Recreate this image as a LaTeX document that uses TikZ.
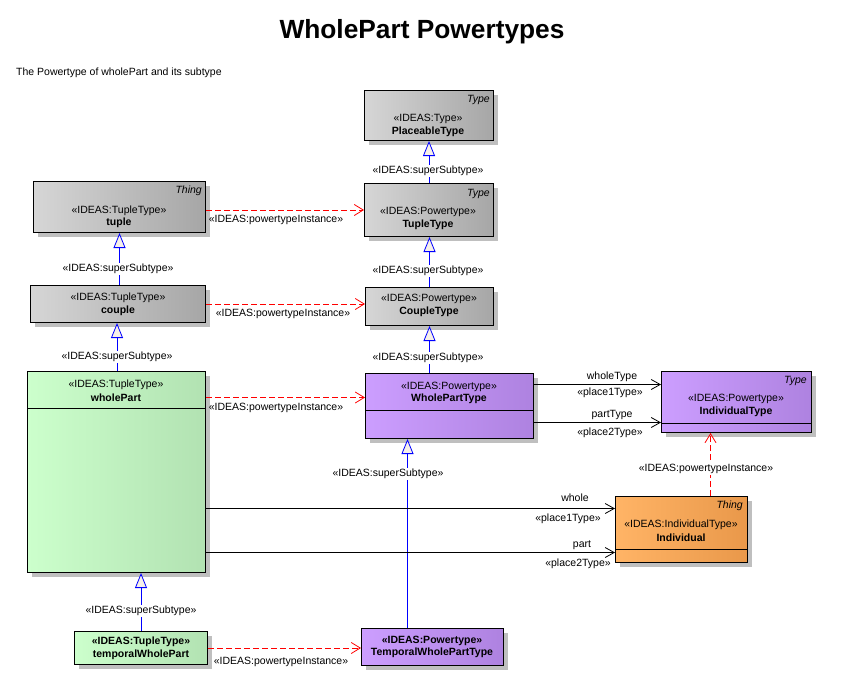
\documentclass[tikz,border=0pt]{standalone}
\usepackage{fontspec}
\setmainfont{Liberation Sans}
\usetikzlibrary{arrows.meta,shadows,calc}
\definecolor{grayL}{HTML}{D6D6D6}
\definecolor{grayR}{HTML}{A6A6A6}
\definecolor{greenL}{HTML}{CCFFCC}
\definecolor{greenR}{HTML}{B2E2B2}
\definecolor{purpL}{HTML}{CC9EFF}
\definecolor{purpR}{HTML}{AE82E0}
\definecolor{orangeL}{HTML}{FFB466}
\definecolor{orangeR}{HTML}{E9984A}
\definecolor{triFill}{HTML}{F6F0E8}
\begin{document}
\begin{tikzpicture}[x=1pt,y=-1pt,
  font=\fontsize{10.5}{12}\selectfont,
  umlbox/.style={draw=black, line width=1pt, rectangle, anchor=north west, inner sep=0pt,
    drop shadow={shadow xshift=4pt,shadow yshift=-4pt,fill=black!25,opacity=1}},
  graybox/.style={umlbox, left color=grayL, right color=grayR},
  greenbox/.style={umlbox, left color=greenL, right color=greenR},
  purpbox/.style={umlbox, left color=purpL, right color=purpR},
  orangebox/.style={umlbox, left color=orangeL, right color=orangeR},
  txt/.style={inner sep=0pt, text=black, yshift=-1pt},
  nm/.style={txt, font=\fontsize{10.5}{12}\selectfont\bfseries},
  meta/.style={txt, anchor=east, font=\fontsize{10.5}{12}\selectfont\itshape},
  lbl/.style={inner sep=1pt, text=black},
  wlbl/.style={lbl, fill=white},
  gen/.style={draw=blue, line width=0.8pt, -{Triangle[length=15pt,width=12pt,fill=triFill]}},
  pti/.style={draw=red, line width=0.8pt, dash pattern=on 6pt off 3pt, -{Straight Barb[length=9pt,width=11pt]}},
  assoc/.style={draw=black, line width=0.8pt, -{Straight Barb[length=9pt,width=10pt]}},
  sep/.style={draw=black, line width=1pt}
]
\useasboundingbox (0,0) rectangle (845,677);

% title
\node[txt, font=\fontsize{26.3}{30}\selectfont\bfseries] (title) at (422,31) {WholePart Powertypes};
\node[txt, anchor=west] (subtitle) at (16,72) {The Powertype of wholePart and its subtype};

% boxes
\node[graybox, minimum width=129pt, minimum height=50pt] (PT) at (364,90) {};
\node[graybox, minimum width=129pt, minimum height=53pt] (TT) at (364,183) {};
\node[graybox, minimum width=172pt, minimum height=51pt] (tuple) at (33,181) {};
\node[graybox, minimum width=175pt, minimum height=37pt] (couple) at (30,285) {};
\node[graybox, minimum width=128pt, minimum height=38pt] (CT) at (365,287) {};
\node[greenbox, minimum width=178pt, minimum height=201pt] (WP) at (27,371) {};
\node[purpbox, minimum width=168pt, minimum height=65pt] (WPT) at (365,373) {};
\node[purpbox, minimum width=150pt, minimum height=61pt] (IT) at (661,371) {};
\node[orangebox, minimum width=132pt, minimum height=66pt] (Ind) at (615,496) {};
\node[greenbox, minimum width=133pt, minimum height=33pt] (TWP) at (74,631) {};
\node[purpbox, minimum width=142pt, minimum height=37pt] (TWPT) at (361,628) {};

% compartment lines
\draw[sep] (WP.west |- 0,408) -- (WP.east |- 0,408);
\draw[sep] (WPT.west |- 0,410) -- (WPT.east |- 0,410);
\draw[sep] (IT.west |- 0,423) -- (IT.east |- 0,423);
\draw[sep] (Ind.west |- 0,549) -- (Ind.east |- 0,549);

% box texts
\node[meta] (PTm) at (490,99) {Type};
\node[txt] (PTs) at (428,118) {«IDEAS:Type»};
\node[nm] (PTn) at (428,131) {PlaceableType};

\node[meta] (TTm) at (490,193) {Type};
\node[txt] (TTs) at (428,211) {«IDEAS:Powertype»};
\node[nm] (TTn) at (428,224) {TupleType};

\node[meta] (tum) at (202,190) {Thing};
\node[txt] (tus) at (119,210) {«IDEAS:TupleType»};
\node[nm] (tun) at (119,222) {tuple};

\node[txt] (cos) at (118,297) {«IDEAS:TupleType»};
\node[nm] (con) at (118,310) {couple};

\node[txt] (CTs) at (429,298) {«IDEAS:Powertype»};
\node[nm] (CTn) at (429,311) {CoupleType};

\node[txt] (WPs) at (116,384) {«IDEAS:TupleType»};
\node[nm] (WPn) at (116,397) {wholePart};

\node[txt] (WPTs) at (449,386) {«IDEAS:Powertype»};
\node[nm] (WPTn) at (449,398) {WholePartType};

\node[meta] (ITm) at (807,380) {Type};
\node[txt] (ITs) at (736,398) {«IDEAS:Powertype»};
\node[nm] (ITn) at (736,411) {IndividualType};

\node[meta] (Indm) at (743,505) {Thing};
\node[txt] (Inds) at (681,524) {«IDEAS:IndividualType»};
\node[nm] (Indn) at (681,537) {Individual};

\node[nm] (TWPs) at (141,641) {«IDEAS:TupleType»};
\node[nm] (TWPn) at (141,654) {temporalWholePart};

\node[nm] (TWPTs) at (432,640) {«IDEAS:Powertype»};
\node[nm] (TWPTn) at (432,652) {TemporalWholePartType};

% generalizations
\draw[gen] (TT.north) -- (PT.south);
\draw[gen] (CT.north) -- (CT.north |- TT.south);
\draw[gen] (WPT.north -| CT.south) -- (CT.south);
\draw[gen] (couple.north -| tuple.south) -- (tuple.south);
\draw[gen] (WP.north -| 117,0) -- (couple.south -| 117,0);
\draw[gen] (TWP.north) -- (TWP.north |- WP.south);
\draw[gen] ([xshift=-25pt]TWPT.north) -- ([xshift=-25pt]TWPT.north |- WPT.south);

\node[wlbl] (g1) at (428,171) {«IDEAS:superSubtype»};
\node[wlbl] (g2) at (428,271) {«IDEAS:superSubtype»};
\node[wlbl] (g3) at (428,358) {«IDEAS:superSubtype»};
\node[wlbl] (g4) at (118,269) {«IDEAS:superSubtype»};
\node[wlbl] (g5) at (117,357) {«IDEAS:superSubtype»};
\node[wlbl] (g6) at (141,611) {«IDEAS:superSubtype»};
\node[wlbl] (g7) at (388,474) {«IDEAS:superSubtype»};

% powertype instances
\draw[pti] (TT.west -| tuple.east) -- (TT.west);
\draw[pti] (couple.east) -- (couple.east -| CT.west);
\draw[pti] ([yshift=8.5pt]WPT.west -| WP.east) -- ([yshift=8.5pt]WPT.west);
\draw[pti] (TWP.east) -- (TWP.east -| TWPT.west);
\draw[pti] ([xshift=29pt]Ind.north) -- ([xshift=29pt]Ind.north |- IT.south);

\node[lbl] (p1) at (276,220) {«IDEAS:powertypeInstance»};
\node[lbl] (p2) at (283,314) {«IDEAS:powertypeInstance»};
\node[lbl] (p3) at (276,408) {«IDEAS:powertypeInstance»};
\node[lbl] (p4) at (281,662) {«IDEAS:powertypeInstance»};
\node[wlbl] (p5) at (706,469) {«IDEAS:powertypeInstance»};

% associations
\draw[assoc] ([yshift=21.5pt]WPT.east) -- ([yshift=21.5pt]WPT.east -| IT.west);
\draw[assoc] ([yshift=-16.5pt]WPT.east) -- ([yshift=-16.5pt]WPT.east -| IT.west);
\draw[assoc] ([yshift=21pt]Ind.west -| WP.east) -- ([yshift=21pt]Ind.west);
\draw[assoc] ([yshift=-23pt]Ind.west -| WP.east) -- ([yshift=-23pt]Ind.west);

\node[lbl] (a1) at (612,377) {wholeType};
\node[lbl] (a2) at (610,393) {«place1Type»};
\node[lbl] (a3) at (612,415) {partType};
\node[lbl] (a4) at (610,433) {«place2Type»};
\node[lbl] (a5) at (575,498) {whole};
\node[lbl] (a6) at (568,519) {«place1Type»};
\node[lbl] (a7) at (582,545) {part};
\node[lbl] (a8) at (578,564) {«place2Type»};
\end{tikzpicture}
\end{document}
